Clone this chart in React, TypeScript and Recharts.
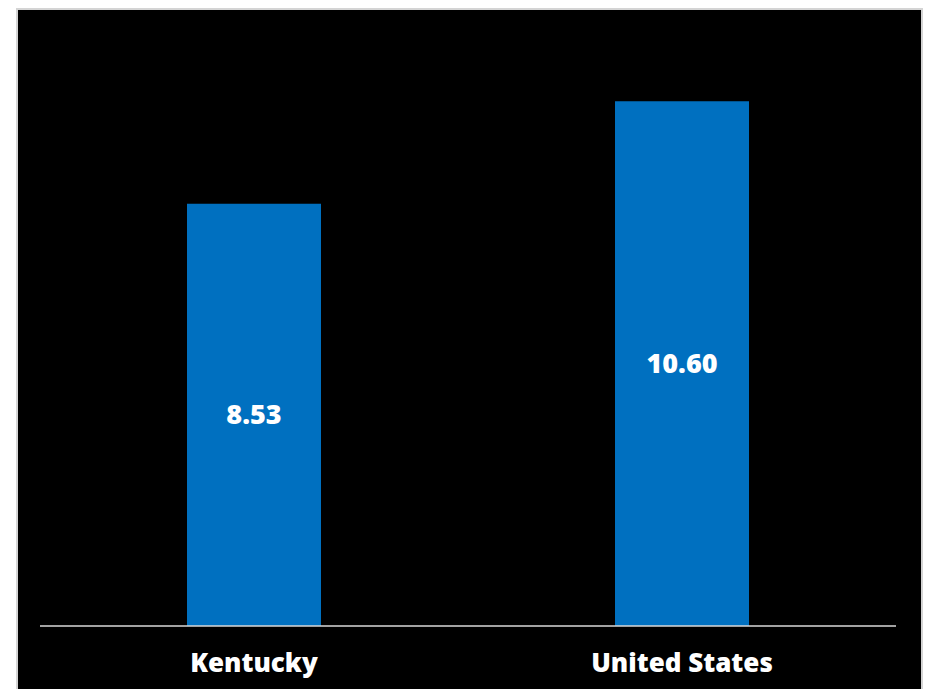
import React from "react";
import { BarChart, Bar, XAxis, YAxis, LabelList } from "recharts";

const categories = ["Kentucky", "United States"];
const values = [8.53, 10.6];
const valueLabels = ["8.53", "10.60"];

const data = categories.map((name, i) => ({ name, value: values[i], label: valueLabels[i] }));

const FONT = "'Open Sans', 'Noto Sans', sans-serif";

export default function App() {
  return (
    <div
      style={{
        position: "absolute",
        left: 16,
        top: 8,
        width: 903,
        height: 679,
        background: "#000",
        border: "2px solid #d4d4d4",
        borderBottom: "none",
        overflow: "hidden",
      }}
    >
      <BarChart
        width={903}
        height={679}
        data={data}
        margin={{ top: 22, right: 25, bottom: 0, left: 22 }}
      >
        <YAxis hide domain={[0, 12]} />
        <XAxis
          dataKey="name"
          height={63}
          tickSize={0}
          tickMargin={28}
          axisLine={{ stroke: "#d9d9d9", strokeWidth: 1.5 }}
          tickLine={false}
          tick={{ fill: "#ffffff", fontSize: 26, fontWeight: 800, fontFamily: FONT }}
        />
        <Bar dataKey="value" fill="#0070C0" barSize={134} isAnimationActive={false}>
          <LabelList
            dataKey="label"
            position="center"
            fill="#ffffff"
            style={{ fontSize: 27, fontWeight: 800, fontFamily: FONT }}
          />
        </Bar>
      </BarChart>
    </div>
  );
}
